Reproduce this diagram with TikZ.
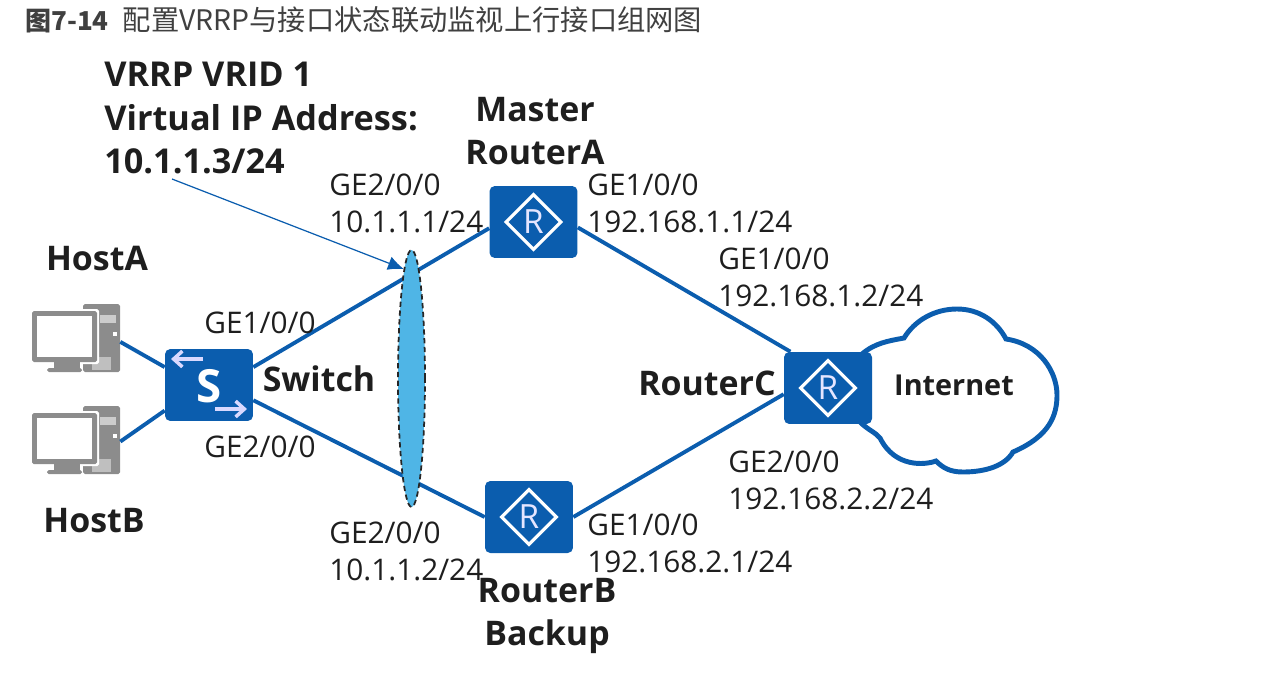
\documentclass[tikz,border=0pt]{standalone}
\usepackage{fontspec}
\setmainfont{Open Sans}
\newfontfamily\cjk{Noto Sans CJK SC}
\usetikzlibrary{shapes.geometric,arrows.meta,calc}
\definecolor{hwblue}{HTML}{0B5DAE}
\definecolor{hwcyan}{HTML}{4FB5E6}
\definecolor{hwgray}{HTML}{8C8C8C}
\definecolor{hwink}{HTML}{1E1E1E}
\tikzset{
  devbox/.style={draw=none, fill=hwblue, rounded corners=3pt, minimum width=1.76cm, minimum height=1.44cm, inner sep=0pt},
  rmark/.style={diamond, draw=white, line width=1.8pt, minimum width=1.12cm, minimum height=1.12cm, inner sep=0pt, text=blue!10, font=\fontsize{19}{19}\selectfont},
  link/.style={draw=hwblue, line width=2.2pt},
  portlab/.style={anchor=west, align=left, inner sep=0pt, text=hwink, font=\fontsize{16.95}{21}\selectfont},
  devlab/.style={align=center, inner sep=0pt, text=hwink, font=\fontsize{19.3}{24}\selectfont\bfseries},
}
\begin{document}
\begin{tikzpicture}[x=0.02cm, y=-0.02cm]
  \useasboundingbox (0,0) rectangle (1288,690);
  % title
  \node[anchor=west, inner sep=0pt, text=black!75, font=\cjk\fontsize{16.1}{18}\selectfont] (title) at (25,20)
    {{\fontsize{14.8}{18}\selectfont\textbf{图7-14}}\hspace{0.5em}配置VRRP与接口状态联动监视上行接口组网图};
  % hosts
  \foreach \hname/\hy in {hosta/0, hostb/102}{
    \begin{scope}[shift={(0,\hy)}]
      \fill[hwgray, rounded corners=1pt] (83,304) rectangle (120,372);
      \fill[white] (88,319) rectangle (120,357);
      \fill[hwgray] (93,319) rectangle (120,357);
      \fill[black!20] (100,315) rectangle (116,323);
      \fill[white] (113,332) rectangle (117,336);
      \fill[black!25] (92,357) rectangle (111,370);
      \fill[white, rounded corners=1pt] (30,309) rectangle (99,364);
      \fill[hwgray, rounded corners=1pt] (32,311) rectangle (97,362);
      \fill[white] (37,316) rectangle (92,357);
      \fill[hwgray] (54,362) rectangle (80,368);
      \fill[hwgray, rounded corners=1pt] (47,368) rectangle (82,372);
      \node[minimum width=1.76cm, minimum height=1.36cm, inner sep=0pt] (\hname) at (76,338) {};
    \end{scope}
  }
  % cloud
  \draw[hwblue, line width=2.8pt, fill=white] (862,354) .. controls (875,343) and (888,341) .. (904,338)
    .. controls (915,320) and (935,309) .. (957,309)
    .. controls (980,309) and (997,322) .. (1006,339)
    .. controls (1040,344) and (1057,372) .. (1057,395)
    .. controls (1057,415) and (1050,436) .. (1013,452)
    .. controls (1005,466) and (985,472) .. (963,472)
    .. controls (950,472) and (943,468) .. (936,461)
    .. controls (925,465) and (895,468) .. (880,438)
    .. controls (875,432) and (868,430) .. (860,422);
  \node[inner sep=0pt, text=hwink, font=\fontsize{16.4}{18}\selectfont\bfseries] (inet) at (954,385) {Internet};
  % devices
  \node[devbox] (sw) at (209,385) {};
  \node[devbox] (ra) at (533.5,222) {};
  \node[devbox] (rb) at (529,517) {};
  \node[devbox] (rc) at (828,388) {};
  \foreach \rname in {ra,rb,rc}
    {\node[rmark] (\rname mark) at (\rname) {R};}
  \node[inner sep=0pt, text=white, font=\fontsize{26}{26}\selectfont\bfseries] (swmark) at (209,386) {S};
  \draw[white!85!blue, line width=2pt, -{Straight Barb[length=5pt,width=9pt]}] ($(sw)+(-6,-26)$) -- ($(sw)+(-38,-26)$);
  \draw[white!85!blue, line width=2pt, -{Straight Barb[length=5pt,width=9pt]}] ($(sw)+(6,24)$) -- ($(sw)+(38,24)$);
  % links
  \draw[link] (hosta.-5) -- (sw.158);
  \draw[link] (hostb.-2) -- (sw.210);
  \draw[link] (sw.22) -- (ra.188);
  \draw[link] (sw.-19) -- (rb.180);
  \draw[link] (ra.-7) -- (rc.136);
  \draw[link] (rb.0) -- (rc.188);
  % vrrp group
  \node[ellipse, draw=black!85, densely dashed, line width=1pt, fill=hwcyan, minimum width=0.54cm, minimum height=5.14cm, inner sep=0pt] (vgroup) at (411.5,378.5) {};
  % labels
  \node[devlab, anchor=west, align=left, font=\fontsize{19.5}{24.5}\selectfont\bfseries] (vip) at (104,118)
    {VRRP VRID 1\\Virtual IP Address:\\10.1.1.3/24};
  \coordinate (vipfoot) at (172,179);
  \draw[hwblue, line width=0.7pt, -{Latex[length=9pt,width=8pt]}] (vipfoot) -- (vgroup.94);
  \node[portlab] (pa1) at (329,203) {GE2/0/0\\10.1.1.1/24};
  \node[portlab] (pa2) at (587,203) {GE1/0/0\\192.168.1.1/24};
  \node[portlab] (pc1) at (718,277) {GE1/0/0\\192.168.1.2/24};
  \node[portlab] (pc2) at (728,480) {GE2/0/0\\192.168.2.2/24};
  \node[portlab] (pb2) at (587,543) {GE1/0/0\\192.168.2.1/24};
  \node[portlab] (pb1) at (329,551) {GE2/0/0\\10.1.1.2/24};
  \node[portlab] (ps1) at (204,323) {GE1/0/0};
  \node[portlab] (ps2) at (204,447) {GE2/0/0};
  \node[devlab] (laba) at (535,131) {Master\\RouterA};
  \node[devlab] (labb) at (547,616) {RouterB\\Backup};
  \node[devlab] (labc) at (707,383) {RouterC};
  \node[devlab] (labs) at (319,379) {Switch};
  \node[devlab] (labha) at (97,259) {HostA};
  \node[devlab] (labhb) at (94,521) {HostB};
\end{tikzpicture}
\end{document}
